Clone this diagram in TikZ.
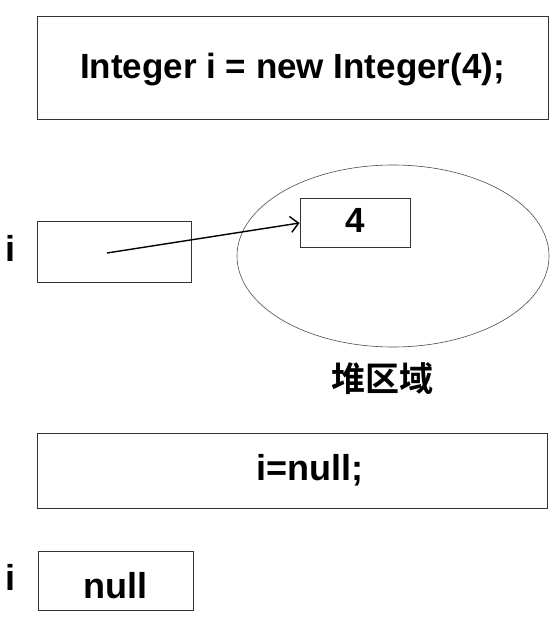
\documentclass[tikz,border=0pt]{standalone}
\usepackage{fontspec}
\setmainfont{Liberation Sans}
\newfontfamily\cjk{Noto Sans CJK SC Bold}
\usetikzlibrary{arrows.meta}
\begin{document}
\begin{tikzpicture}[x=1pt,y=-1pt,
  box/.style={draw=black!80,line width=1pt,inner sep=0pt,minimum width=#1},
  txt/.style={font=\bfseries\fontsize{35}{40}\selectfont},
  small/.style={font=\bfseries\fontsize{36}{40}\selectfont},
  num/.style={font=\bfseries\fontsize{35}{40}\selectfont}]
\useasboundingbox (0,0) rectangle (558,617);
\node[box=511pt,minimum height=103pt] (code1) at (292.5,68.5) {};
\node[txt] (code1t) at ([yshift=-1pt]code1.center) {Integer i = new Integer(4);};
\node[box=154pt,minimum height=60pt] (var1) at (114,252) {};
\node[small] (lab1) at (11,248) {i};
\draw[black!70,line width=0.6pt] (393,256) ellipse [x radius=156, y radius=91];
\node[box=110pt,minimum height=48pt] (obj) at (355,223) {};
\node[num] (objt) at ([yshift=3pt]obj.center) {4};
\coordinate (start) at (107,253);
\draw[line width=1.4pt,-{Straight Barb[length=8pt,width=16pt]}] (start) -- (obj.west);
\node[font=\cjk\fontsize{34}{38}\selectfont] (heap) at (382,379) {堆区域};
\node[box=510pt,minimum height=75pt] (code2) at (292,470.5) {};
\node[small] (code2t) at ([xshift=18pt]code2.center) {i=null;};
\node[box=155pt,minimum height=59pt] (var2) at (115.5,580.5) {};
\node[small] (var2t) at ([yshift=-5pt]var2.center) {null};
\node[small] (lab2) at (11,577) {i};
\end{tikzpicture}
\end{document}
